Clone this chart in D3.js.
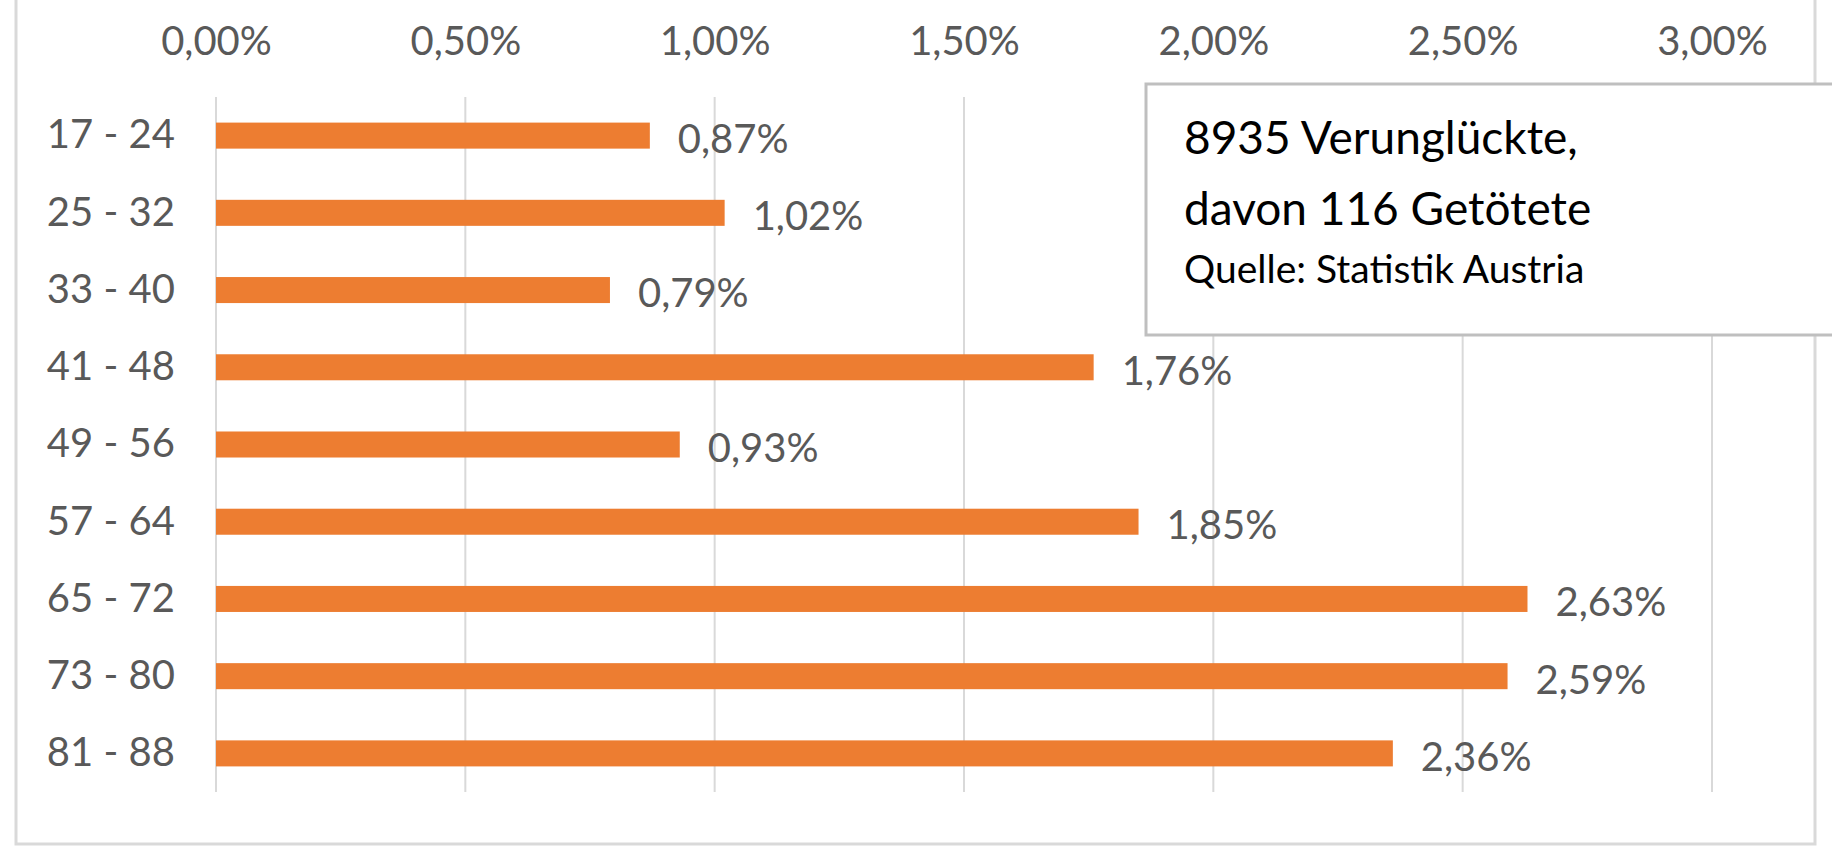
<!DOCTYPE html>
<html>
<head>
<meta charset="utf-8">
<script src="https://cdn.jsdelivr.net/npm/d3@7"></script>
<style>
    html, body { margin: 0; padding: 0; background: #fff; overflow: hidden; }
    svg { display: block; font-family: Lato, sans-serif; }
</style>
</head>
<body>
<svg></svg>
<script>
// Altersgruppen und Anteil Verunglückte
const ageGroups = ["17 - 24", "25 - 32", "33 - 40", "41 - 48", "49 - 56", "57 - 64", "65 - 72", "73 - 80", "81 - 88"];
const shares = [0.0087, 0.0102, 0.0079, 0.0176, 0.0093, 0.0185, 0.0263, 0.0259, 0.0236];
const xTicks = [0, 0.005, 0.01, 0.015, 0.02, 0.025, 0.03];
const infoLines = ["8935 Verunglückte,", "davon 116 Getötete", "Quelle: Statistik Austria"];

const width = 1832;
const height = 851;
const svg = d3.select("svg").attr("width", width).attr("height", height);

const fmt = v => d3.format(".2f")(v * 100).replace(".", ",") + "%";

// plot area
const plotLeft = 216, plotRight = 1712, plotTop = 97, plotBottom = 792;

const x = d3.scaleLinear().domain([0, 0.03]).range([plotLeft, plotRight]);
const y = d3.scaleBand().domain(ageGroups).range([plotTop, plotBottom])
    .paddingInner(0.663).paddingOuter(0.3315);

// outer chart border (top edge cut off)
svg.append("path")
    .attr("d", `M16,-5 V844 H1815 V-5`)
    .attr("fill", "none")
    .attr("stroke", "#d9d9d9")
    .attr("stroke-width", 3);

// gridlines
svg.append("g")
    .selectAll("line")
    .data(xTicks)
    .enter()
    .append("line")
    .attr("x1", d => x(d)).attr("x2", d => x(d))
    .attr("y1", plotTop).attr("y2", plotBottom)
    .attr("stroke", "#d9d9d9")
    .attr("stroke-width", 2);

// top axis labels
const xAxis = svg.append("g")
    .attr("transform", `translate(0,41)`)
    .call(d3.axisTop(x).tickValues(xTicks).tickFormat(fmt).tickSize(0).tickPadding(0));
xAxis.select(".domain").remove();
xAxis.selectAll("text")
    .attr("dy", "0.36em")
    .attr("fill", "#595959")
    .style("font-size", "40px")
    .style("font-family", "Lato, sans-serif");

// category labels
const yAxis = svg.append("g")
    .attr("transform", `translate(175,0)`)
    .call(d3.axisLeft(y).tickSize(0).tickPadding(0));
yAxis.select(".domain").remove();
yAxis.selectAll("text")
    .attr("fill", "#595959")
    .style("font-size", "40px")
    .style("font-family", "Lato, sans-serif");

// bars
svg.append("g")
    .selectAll("rect")
    .data(shares)
    .enter()
    .append("rect")
    .attr("x", x(0))
    .attr("y", (d, i) => y(ageGroups[i]))
    .attr("width", d => x(d) - x(0))
    .attr("height", y.bandwidth())
    .attr("fill", "#ed7d31");

// value labels
svg.append("g")
    .selectAll("text")
    .data(shares)
    .enter()
    .append("text")
    .attr("x", d => x(d) + 28)
    .attr("y", (d, i) => y(ageGroups[i]) + y.bandwidth() / 2 + 3)
    .attr("dy", "0.36em")
    .attr("fill", "#595959")
    .style("font-size", "40px")
    .text(fmt);

// info box
svg.append("rect")
    .attr("x", 1146).attr("y", 84)
    .attr("width", 720).attr("height", 251)
    .attr("fill", "#fff")
    .attr("stroke", "#bfbfbf")
    .attr("stroke-width", 3);

const infoY = [137, 208, 269];
const infoSize = [46, 46, 39];
svg.append("g")
    .selectAll("text")
    .data(infoLines)
    .enter()
    .append("text")
    .attr("x", 1184)
    .attr("y", (d, i) => infoY[i])
    .attr("dy", "0.36em")
    .attr("fill", "#000")
    .style("font-size", (d, i) => infoSize[i] + "px")
    .text(d => d);
</script>
</body>
</html>
